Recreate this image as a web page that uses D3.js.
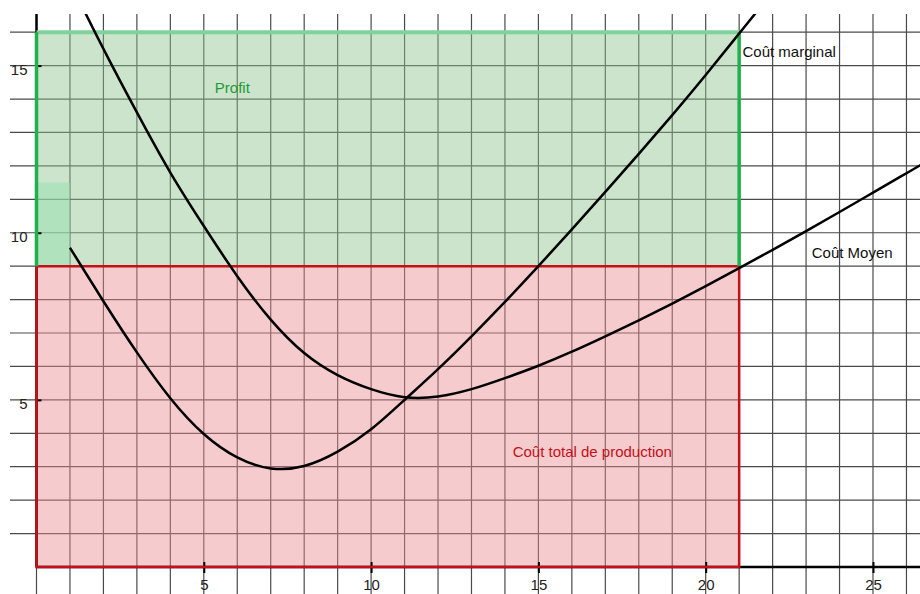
<!DOCTYPE html>
<html>
<head>
<meta charset="utf-8">
<script src="https://cdn.jsdelivr.net/npm/d3@7"></script>
<style>
  body { margin: 0; background: #fff; }
  svg { display: block; font-family: "Liberation Sans", Arial, sans-serif; }
</style>
</head>
<body>
<div id="chart"></div>
<script>
// Coût marginal (quantité, coût)
const mcQ = [1, 2, 3, 4, 5, 6, 7, 8, 9, 10, 11, 12, 13, 14, 15, 16, 17, 18, 19, 20, 21, 22];
const mcC = [9.55, 7.95, 6.42, 5.05, 3.98, 3.28, 2.95, 3.02, 3.45, 4.12, 5.0, 5.92, 6.9, 7.93, 9.0, 10.1, 11.22, 12.36, 13.52, 14.72, 15.96, 17.2];

// Coût moyen
const acQ = [1, 2, 3, 4, 5, 6, 7, 8, 9, 10, 11, 12, 13, 14, 15, 16, 17, 18, 19, 20, 21, 22, 23, 24, 25, 26, 27];
const acC = [17.5, 15.5, 13.6, 11.8, 10.2, 8.7, 7.4, 6.4, 5.74, 5.32, 5.08, 5.1, 5.32, 5.65, 6.02, 6.44, 6.9, 7.38, 7.88, 8.4, 8.94, 9.49, 10.05, 10.62, 11.2, 11.78, 12.36];

// quantité produite, prix, coût moyen à cette quantité
const qProd = 21;
const price = 16;
const avgCost = 9;

const xTicks = [5, 10, 15, 20, 25];
const yTicks = [5, 10, 15];

const width = 920, height = 594;

const svg = d3.select("#chart").append("svg")
  .attr("width", width)
  .attr("height", height);

const x = d3.scaleLinear().domain([0, 25]).range([36.5, 873]);
const y = d3.scaleLinear().domain([0, 15]).range([567, 65.6]);

const gridLeft = 10, gridTop = 14;

svg.append("clipPath").attr("id", "clip")
  .append("rect")
  .attr("x", gridLeft).attr("y", gridTop)
  .attr("width", width - gridLeft).attr("height", height - gridTop);

// grille
const grid = svg.append("g").attr("stroke", "#4a4a4a").attr("stroke-width", 1.2);
grid.selectAll(".v")
  .data(d3.range(0, 27))
  .enter().append("line")
  .attr("x1", d => x(d)).attr("x2", d => x(d))
  .attr("y1", gridTop).attr("y2", height);
grid.selectAll(".h")
  .data(d3.range(1, 17))
  .enter().append("line")
  .attr("y1", d => y(d)).attr("y2", d => y(d))
  .attr("x1", gridLeft).attr("x2", width);

// zones
svg.append("rect")
  .attr("x", x(0)).attr("y", y(avgCost))
  .attr("width", x(qProd) - x(0)).attr("height", y(0) - y(avgCost))
  .attr("fill", "rgb(232,140,145)").attr("opacity", 0.45);

svg.append("rect")
  .attr("x", x(0)).attr("y", y(price))
  .attr("width", x(qProd) - x(0)).attr("height", y(avgCost) - y(price))
  .attr("fill", "rgb(140,195,140)").attr("opacity", 0.45);

svg.append("rect")
  .attr("x", x(0)).attr("y", y(11.5))
  .attr("width", x(1) - x(0)).attr("height", y(avgCost) - y(11.5))
  .attr("fill", "rgb(150,225,175)").attr("opacity", 0.5);

// axes
svg.append("line")
  .attr("x1", x(0)).attr("x2", width)
  .attr("y1", y(0)).attr("y2", y(0))
  .attr("stroke", "#000").attr("stroke-width", 2.5);
svg.append("line")
  .attr("x1", x(0)).attr("x2", x(0))
  .attr("y1", y(0)).attr("y2", gridTop)
  .attr("stroke", "#000").attr("stroke-width", 2.5);

const xAxis = svg.append("g")
  .attr("transform", `translate(0,${y(0)})`)
  .call(d3.axisBottom(x).tickValues(xTicks).tickSize(6).tickPadding(6))
  .call(g => g.select(".domain").remove());
xAxis.selectAll(".tick line").attr("y1", -5).attr("stroke", "#000").attr("stroke-width", 2);
xAxis.selectAll("text").attr("font-size", 15).attr("fill", "#222")
  .attr("font-family", "'Liberation Sans', Arial, sans-serif");

const yAxis = svg.append("g")
  .attr("transform", `translate(${x(0)},0)`)
  .call(d3.axisLeft(y).tickValues(yTicks).tickSize(6).tickPadding(3))
  .call(g => g.select(".domain").remove());
yAxis.selectAll(".tick line").attr("x2", 5).attr("stroke", "#000").attr("stroke-width", 2);
yAxis.selectAll("text").attr("font-size", 15).attr("fill", "#222").attr("dy", "0.6em")
  .attr("font-family", "'Liberation Sans', Arial, sans-serif");

// bordures
const red = "#c4101a";
svg.append("path")
  .attr("d", `M${x(0)},${y(avgCost)}H${x(qProd)}V${y(0)}H${x(0)}Z`)
  .attr("fill", "none").attr("stroke", red).attr("stroke-width", 2.5);

svg.append("line")
  .attr("x1", x(0)).attr("x2", x(qProd))
  .attr("y1", y(price)).attr("y2", y(price))
  .attr("stroke", "#80d19c").attr("stroke-width", 4);
svg.append("path")
  .attr("d", `M${x(0)},${y(avgCost)}V${y(price)}M${x(qProd)},${y(price)}V${y(avgCost)}`)
  .attr("fill", "none").attr("stroke", "#22b04b").attr("stroke-width", 3.5);

// courbes
const line = d3.line()
  .x(d => x(d[0]))
  .y(d => y(d[1]))
  .curve(d3.curveNatural);

const curves = svg.append("g").attr("clip-path", "url(#clip)");
curves.append("path")
  .datum(d3.zip(mcQ, mcC))
  .attr("d", line)
  .attr("fill", "none").attr("stroke", "#000").attr("stroke-width", 2.5);
curves.append("path")
  .datum(d3.zip(acQ, acC))
  .attr("d", line)
  .attr("fill", "none").attr("stroke", "#000").attr("stroke-width", 2.5);

// textes
const labels = [
  { t: "Profit", q: 5.33, c: 14.19, col: "#1f9a3a" },
  { t: "Coût marginal", q: 21.1, c: 15.25, col: "#111" },
  { t: "Coût Moyen", q: 23.17, c: 9.24, col: "#111" },
  { t: "Coût total de production", q: 14.23, c: 3.29, col: "#c4101a" }
];
svg.selectAll(".lbl")
  .data(labels)
  .enter().append("text")
  .attr("x", d => x(d.q))
  .attr("y", d => y(d.c))
  .attr("fill", d => d.col)
  .attr("font-size", 15)
  .text(d => d.t);
</script>
</body>
</html>
